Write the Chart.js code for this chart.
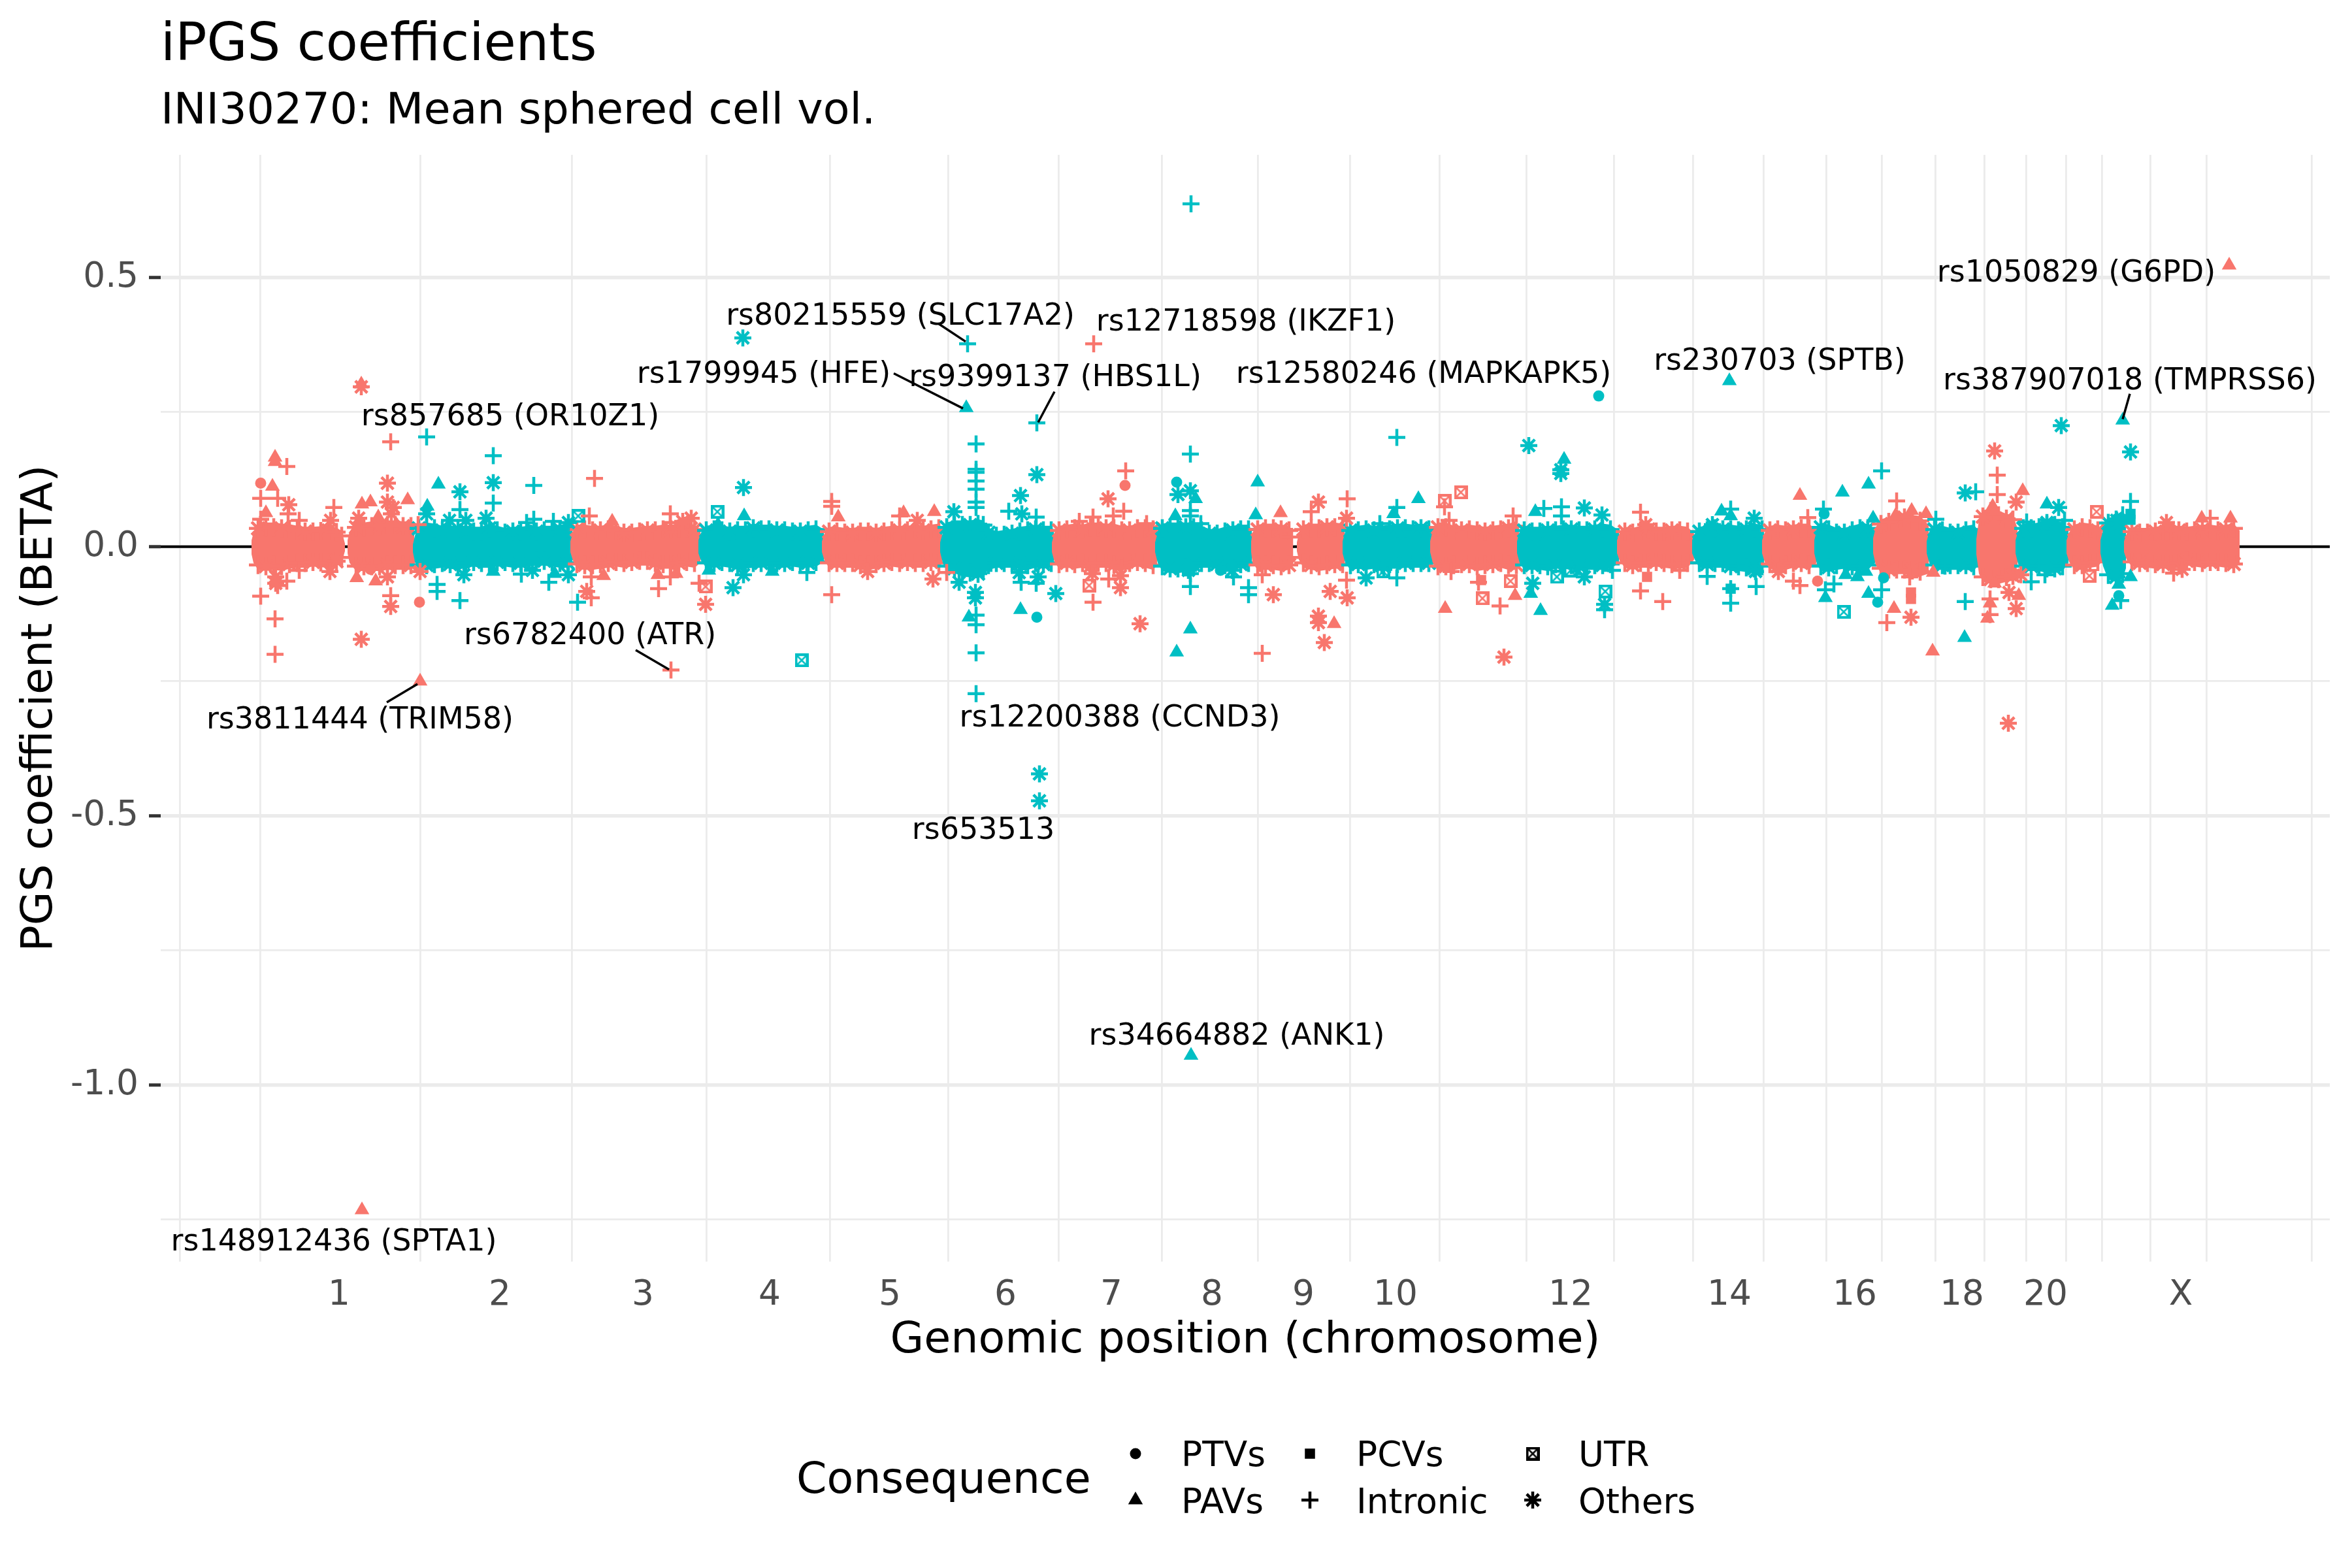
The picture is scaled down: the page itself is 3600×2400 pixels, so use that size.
<!DOCTYPE html>
<html>
<head>
<meta charset="utf-8">
<title>iPGS coefficients</title>
<script src="https://cdn.jsdelivr.net/npm/chart.js@4"></script>
<style>
  body { margin: 0; background: #fff; }
  canvas { display: block; }
</style>
</head>
<body>
<canvas id="myChart" width="3600" height="2400" style="width:3600px;height:2400px"></canvas>
<script>
var chromTicks = [134, 380, 599, 793, 977, 1154, 1316, 1470, 1610, 1751, 2019, 2262, 2454, 2618, 2746, 2953];
var chromLabels = ["1", "2", "3", "4", "5", "6", "7", "8", "9", "10", "12", "14", "16", "18", "20", "X"];
var gridBreaks = [-110, 13, 258, 490, 696, 885, 1066, 1235, 1393, 1540, 1681, 1818, 1951, 2085, 2206, 2314, 2410, 2495, 2577, 2652, 2716, 2777, 2832, 2906, 2992, 3153];
var yMajor = [0.5, 0, -0.5, -1];
var yMinor = [0.25, -0.25, -0.75, -1.25];
var consequences = ["PTVs", "PAVs", "PCVs", "Intronic", "UTR", "Others"];

// the dense cloud around zero, per chromosome: [x, upper edge, lower edge]
var band1a = [[0,.012,-.014],[3,.026,-.03],[10,.034,-.034],[22,.036,-.036],[34,.036,-.034],[46,.034,-.036],[58,.033,-.032],[70,.03,-.03],[82,.028,-.03],[94,.028,-.028],[106,.029,-.029],[118,.03,-.03],[130,.027,-.027],[138,.02,-.02],[143,.006,-.008]];
var band1b = [[147,.012,-.012],[150,.028,-.03],[160,.036,-.036],[172,.036,-.036],[184,.038,-.036],[196,.038,-.036],[208,.04,-.034],[220,.04,-.034],[232,.038,-.034],[244,.038,-.034],[249,.036,-.03]];
var band2 = [[247,.004,-.01],[250,.02,-.028],[256,.034,-.034],[268,.036,-.034],[280,.034,-.032],[292,.03,-.03],[304,.03,-.032],[316,.03,-.034],[328,.03,-.03],[340,.028,-.028],[352,.028,-.03],[364,.034,-.03],[376,.03,-.028],[388,.026,-.028],[400,.028,-.03],[412,.028,-.03],[424,.03,-.028],[436,.028,-.026],[448,.03,-.026],[460,.03,-.028],[472,.032,-.03],[484,.034,-.03],[491,.034,-.03]];
var band3 = [[488,.01,-.01],[492,.026,-.026],[498,.032,-.032],[510,.032,-.034],[522,.03,-.034],[534,.03,-.032],[546,.032,-.03],[558,.03,-.028],[570,.026,-.03],[582,.026,-.028],[594,.028,-.026],[606,.03,-.026],[618,.03,-.03],[630,.032,-.032],[642,.032,-.032],[654,.034,-.03],[666,.034,-.028],[678,.032,-.03],[687,.03,-.03]];
var band4 = [[684,.012,-.012],[688,.026,-.026],[696,.03,-.03],[708,.032,-.03],[720,.03,-.028],[732,.028,-.03],[744,.03,-.034],[756,.03,-.032],[768,.034,-.03],[780,.032,-.03],[792,.032,-.028],[804,.03,-.03],[816,.03,-.03],[828,.028,-.028],[840,.028,-.03],[852,.03,-.03],[864,.032,-.028],[876,.032,-.028]];
var band5 = [[873,.01,-.01],[877,.024,-.026],[884,.028,-.03],[896,.028,-.03],[908,.026,-.03],[920,.026,-.03],[932,.028,-.034],[944,.028,-.034],[956,.026,-.032],[968,.028,-.03],[980,.03,-.028],[992,.03,-.03],[1004,.03,-.028],[1016,.032,-.03],[1028,.03,-.03],[1040,.032,-.028],[1052,.034,-.03],[1057,.034,-.03]];
var band6 = [[1054,.008,-.01],[1058,.026,-.03],[1064,.036,-.036],[1076,.04,-.04],[1088,.04,-.046],[1100,.04,-.048],[1112,.042,-.05],[1120,.04,-.044],[1128,.026,-.034],[1140,.02,-.03],[1152,.022,-.03],[1164,.024,-.03],[1176,.028,-.032],[1188,.03,-.034],[1200,.032,-.03],[1212,.03,-.032],[1224,.03,-.03],[1228,.03,-.03]];
var band7 = [[1225,.008,-.01],[1229,.026,-.028],[1236,.03,-.032],[1248,.032,-.03],[1260,.034,-.032],[1272,.032,-.03],[1284,.036,-.036],[1296,.036,-.03],[1308,.034,-.03],[1320,.034,-.034],[1332,.03,-.036],[1344,.03,-.03],[1356,.034,-.028],[1368,.034,-.03],[1380,.032,-.034],[1386,.03,-.034]];
var band8 = [[1383,.008,-.01],[1387,.026,-.03],[1394,.034,-.036],[1406,.036,-.04],[1418,.036,-.04],[1430,.036,-.038],[1442,.036,-.034],[1454,.03,-.03],[1466,.024,-.03],[1478,.024,-.032],[1490,.028,-.034],[1502,.03,-.032],[1514,.032,-.032],[1526,.032,-.03],[1531,.03,-.03]];
var band9a = [[1530,.01,-.01],[1532,.026,-.03],[1540,.032,-.034],[1552,.034,-.034],[1564,.034,-.034],[1576,.032,-.036],[1588,.03,-.034],[1592,.018,-.02],[1594,.006,-.006]];
var band9b = [[1600,.008,-.008],[1603,.024,-.024],[1610,.032,-.03],[1622,.034,-.034],[1634,.034,-.036],[1646,.036,-.034],[1658,.036,-.032],[1670,.034,-.032],[1673,.03,-.03]];
var band10 = [[1670,.01,-.012],[1674,.028,-.03],[1682,.03,-.034],[1694,.03,-.032],[1706,.032,-.034],[1718,.03,-.032],[1730,.03,-.034],[1742,.032,-.032],[1754,.034,-.032],[1766,.034,-.03],[1778,.032,-.03],[1790,.034,-.03],[1802,.032,-.03],[1807,.03,-.03]];
var band11 = [[1804,.01,-.01],[1808,.03,-.03],[1816,.036,-.036],[1828,.036,-.036],[1840,.03,-.034],[1852,.03,-.032],[1864,.032,-.032],[1876,.03,-.036],[1888,.028,-.034],[1900,.03,-.032],[1912,.032,-.03],[1924,.034,-.034],[1936,.038,-.034],[1940,.036,-.03]];
var band12 = [[1937,.01,-.012],[1941,.028,-.03],[1948,.03,-.034],[1960,.028,-.034],[1972,.028,-.034],[1984,.03,-.036],[1996,.03,-.032],[2008,.032,-.032],[2020,.032,-.034],[2032,.03,-.036],[2044,.03,-.034],[2056,.032,-.034],[2068,.034,-.034],[2080,.032,-.032],[2093,.03,-.03]];
var band13 = [[2090,.012,-.012],[2094,.026,-.026],[2102,.028,-.03],[2114,.026,-.034],[2126,.03,-.03],[2138,.032,-.03],[2150,.028,-.028],[2162,.028,-.03],[2174,.03,-.032],[2186,.03,-.032],[2198,.028,-.03],[2208,.024,-.024]];
var band14 = [[2205,.012,-.012],[2209,.024,-.024],[2216,.028,-.03],[2228,.03,-.032],[2240,.034,-.03],[2252,.032,-.03],[2264,.032,-.036],[2276,.03,-.036],[2288,.032,-.038],[2300,.034,-.04],[2312,.032,-.036],[2315,.026,-.03]];
var band15 = [[2312,.012,-.012],[2316,.026,-.028],[2324,.03,-.032],[2336,.032,-.036],[2348,.03,-.034],[2360,.032,-.03],[2372,.034,-.03],[2384,.034,-.034],[2395,.03,-.03]];
var band16 = [[2392,.012,-.012],[2396,.032,-.032],[2402,.036,-.036],[2414,.032,-.038],[2426,.026,-.034],[2438,.026,-.032],[2450,.03,-.036],[2462,.034,-.036],[2474,.034,-.034],[2485,.032,-.03]];
var band17 = [[2482,.016,-.012],[2486,.036,-.034],[2494,.042,-.04],[2506,.046,-.042],[2518,.052,-.042],[2530,.054,-.042],[2542,.05,-.044],[2554,.048,-.046],[2567,.04,-.05]];
var band18 = [[2564,.01,-.012],[2568,.028,-.03],[2576,.032,-.034],[2588,.03,-.034],[2600,.026,-.034],[2612,.026,-.034],[2624,.03,-.034],[2636,.032,-.036],[2643,.03,-.034]];
var band19 = [[2640,.014,-.014],[2644,.05,-.05],[2650,.056,-.056],[2662,.066,-.06],[2674,.058,-.06],[2686,.052,-.056],[2696,.05,-.054],[2703,.034,-.034]];
var band20 = [[2700,.012,-.012],[2704,.028,-.032],[2712,.034,-.036],[2724,.034,-.036],[2736,.036,-.036],[2748,.04,-.04],[2760,.04,-.04],[2772,.036,-.036],[2781,.03,-.03]];
var band21 = [[2778,.012,-.012],[2782,.026,-.028],[2790,.032,-.034],[2802,.036,-.034],[2814,.034,-.03],[2826,.03,-.028],[2833,.026,-.026]];
var band22 = [[2830,.012,-.012],[2834,.03,-.036],[2842,.044,-.052],[2854,.05,-.056],[2864,.058,-.05],[2869,.056,-.04]];
var bandX = [[2866,.01,-.01],[2870,.024,-.024],[2878,.028,-.028],[2890,.026,-.03],[2902,.026,-.03],[2914,.028,-.032],[2926,.03,-.032],[2938,.03,-.032],[2950,.03,-.03],[2962,.028,-.026],[2974,.03,-.028],[2986,.032,-.03],[2998,.032,-.028],[3010,.03,-.028],[3022,.032,-.03],[3034,.034,-.032],[3043,.03,-.03]];

// variants that stand clear of the cloud
var redIntronic = [[213,.195],[54,.149],[14,.09],[40,.09],[14,.051],[56,.061],[73,.049],[126,.073],[525,.127],[517,.057],[641,.061],[641,.045],[255,.041],[14,-.092],[36,-.134],[36,-.2],[40,-.072],[54,-.064],[73,-.044],[213,-.091],[520,-.095],[623,-.078],[641,-.056],[520,-.056],[685,-.068],[642,-.229],
  [888,.084],[888,.075],[888,-.089],[992,.057],[1064,-.048],[1338,.141],[1288,.055],[1267,.047],[1335,.066],[1319,.057],[1370,.043],[1288,-.103],[1312,-.06],[1547,-.198],[1547,-.052],[1677,.089],[1622,.065],[1676,-.062],[1332,-.04],[1289,.377],
  [1826,.074],[1833,.049],[1931,.057],[1911,-.11],[1878,-.066],[2126,.064],[2126,-.082],[2160,-.102],[2382,.054],[2518,.085],[2503,-.141],[2360,-.064],[2370,-.072],[2538,-.056],[2672,.133],[2672,.097],[2661,-.097],[2661,-.126],[2998,.053],[2942,-.049],[2186,-.044],[1836,-.046]];
var redOthers = [[208,.118],[57,.078],[208,.083],[217,.073],[214,.061],[121,.049],[164,.053],[673,.053],[660,.047],[120,-.046],[37,-.056],[37,-.068],[208,-.056],[213,-.111],[258,-.046],[168,-.172],[513,-.083],[695,-.107],[168,.297],
  [1311,.089],[1633,.083],[1676,.053],[1019,.049],[943,-.046],[1043,-.06],[1360,-.143],[1633,-.129],[1633,-.141],[1642,-.178],[1564,-.089],[1651,-.083],[1677,-.095],[1330,-.076],[1330,-.054],[1287,-.05],
  [2134,.041],[2337,-.046],[2668,.178],[2701,.083],[2690,-.085],[2701,-.115],[2540,-.131],[1917,-.205],[2931,.045],[2955,-.042],[2708,-.052],[2689,-.328]];
var redPAVs = [[36,.166],[36,.158],[32,.112],[169,.079],[182,.083],[239,.087],[22,.063],[194,.055],[552,.047],[161,-.058],[190,-.064],[258,-.25],[539,-.054],[622,-.052],[650,-.05],[168,.302],[169,-1.232],
  [898,.055],[998,.063],[1045,.065],[1575,.063],[1657,-.143],
  [1827,-.115],[1934,-.091],[2370,.095],[2541,.067],[2563,.061],[2516,.057],[2514,-.115],[2573,-.194],[2711,.104],[2665,.075],[2669,.065],[2661,-.105],[2657,-.133],[2705,-.091],[2985,.053],[3029,.053],[2574,-.048],[2668,-.068],[3027,.523]];
var redPTVs = [[14,.118],[257,-.103],[182,-.042],[1337,.114],[2397,-.064]];
var redPCVs = [[2136,-.056],[1882,-.062],[2540,-.085],[2540,-.097]];
var redUTR = [[695,-.074],[1282,-.072],[1851,.101],[1826,.085],[1884,-.096],[1927,-.064],[2824,.065],[2813,-.054]];

var tealIntronic = [[268,.204],[370,.169],[432,.114],[370,.081],[319,.069],[421,.045],[432,.051],[462,.047],[284,-.07],[284,-.083],[319,-.1],[413,-.051],[455,-.066],[499,-.103],
  [1202,.23],[1109,.191],[1109,.144],[1109,.138],[1109,.122],[1109,.107],[1109,.083],[1109,.073],[1109,-.127],[1109,-.145],[1109,-.197],[1109,-.273],[1437,.172],[1753,.203],[1159,.066],[1201,.055],[1437,.067],[1437,.057],[1453,.043],[1753,.073],[1727,.043],[1437,-.074],[1437,-.05],[1526,-.076],[1526,-.089],[1503,-.056],[1753,-.058],[1733,-.042],[850,-.048],[1178,-.066],[1201,-.068],[1438,.637],[1096,.377],
  [1978,.071],[2005,.074],[2005,.057],[2264,.07],[2406,.07],[2495,.141],[2071,-.117],[2083,-.044],[2228,-.055],[2264,-.105],[2264,-.078],[2303,-.074],[2495,-.08],[2409,-.08],[2422,-.069],[2639,.102],[2578,.051],[2623,-.102],[2724,-.065],[2745,-.052],[2717,.046],[2775,.049],[2876,.084],[2861,-.1],[2592,-.036]];
var tealOthers = [[319,.102],[370,.119],[268,.061],[303,.049],[328,.049],[359,.053],[753,.11],[485,.045],[737,-.076],[753,-.052],[485,-.052],[325,-.052],[430,-.044],[752,.388],
  [1202,.134],[1177,.095],[1179,.061],[1075,.065],[1418,.097],[1437,.104],[1231,-.087],[1083,-.066],[1108,-.085],[1108,-.095],[1175,-.048],[1204,-.056],[1706,-.058],[1434,-.044],[1501,-.044],[1206,-.422],[1206,-.472],
  [1955,.188],[2004,.143],[2004,.136],[2040,.072],[2067,.059],[2071,-.107],[1961,-.068],[2040,-.056],[2300,.053],[2236,.041],[2302,-.046],[2623,.1],[2770,.225],[2766,.073],[2748,.045],[2876,.176],[2855,.049]];
var tealPAVs = [[286,.116],[269,.075],[754,.057],[714,.041],[370,-.046],[464,-.05],[700,-.044],[797,-.046],
  [1094,.258],[1098,-.131],[1177,-.117],[1437,-.153],[1416,-.196],[1540,.12],[1537,.059],[1445,.089],[1414,.057],[1786,.089],[1748,.061],[1438,-.945],
  [2009,.162],[1965,.065],[1958,-.087],[1973,-.119],[2250,.066],[2264,.057],[2435,.101],[2475,.116],[2482,.053],[2409,-.095],[2475,-.087],[2440,-.052],[2458,-.056],[2471,-.046],[2622,-.169],[2748,.079],[2864,.235],[2876,-.056],[2858,-.07],[2848,-.109],[2262,.308]];
var tealPTVs = [[1416,.12],[1202,-.131],[1483,-.044],[2407,.061],[2489,-.103],[2498,-.058],[2858,-.091],[2062,.28]];
var tealPCVs = [[2264,-.078],[2876,.061],[2876,.05]];
var tealUTR = [[500,.057],[713,.065],[842,-.211],[1732,-.046],[1998,-.056],[2019,-.044],[2072,-.083],[2437,-.121]];

// label text with its centre, and the connector lines
var labelTexts = ["rs857685 (OR10Z1)", "rs80215559 (SLC17A2)", "rs12718598 (IKZF1)", "rs1799945 (HFE)", "rs9399137 (HBS1L)", "rs12580246 (MAPKAPK5)", "rs230703 (SPTB)", "rs1050829 (G6PD)", "rs387907018 (TMPRSS6)", "rs3811444 (TRIM58)", "rs6782400 (ATR)", "rs12200388 (CCND3)", "rs653513", "rs34664882 (ANK1)", "rs148912436 (SPTA1)"];
var labelX = [396, 993, 1522, 784, 1230, 1794, 2339, 2793, 2875, 166, 518, 1329, 1120, 1508, 126];
var labelY = [.244, .431, .42, .322, .317, .322, .347, .511, .311, -.319, -.163, -.316, -.525, -.907, -1.289];
var connectors = [[1052,.414,1093,.381],[983,.322,1089,.257],[1229,.288,1204,.231],[2875,.284,2864,.237],[207,-.289,254,-.255],[588,-.192,639,-.228]];

var RED = "#F8766D", TEAL = "#00BFC4";
var xMin = -139, xMax = 3181, yMin = -1.328, yMax = 0.728;
var coreBleed = 0.009; // solid core reaches a little past the edge marks' centres
var fontName = "'DejaVu Sans'";

Chart.defaults.font.family = fontName;
Chart.defaults.animation = false;

function utrImage(color) {
    var c = document.createElement("canvas");
    c.width = 21; c.height = 21;
    var g = c.getContext("2d");
    g.strokeStyle = color;
    g.lineWidth = 4;
    g.strokeRect(2, 2, 17, 17);
    g.lineWidth = 2.5;
    g.beginPath();
    g.moveTo(3, 3); g.lineTo(18, 18);
    g.moveTo(18, 3); g.lineTo(3, 18);
    g.stroke();
    return c;
}

var shapeStyle = {
    PTVs: {pointStyle: "circle", radius: 8.5, line: 0},
    PAVs: {pointStyle: "triangle", radius: 13, line: 0},
    PCVs: {pointStyle: "rect", radius: 11, line: 0},
    Intronic: {pointStyle: "cross", radius: 13, line: 4.5},
    Others: {pointStyle: "star", radius: 13, line: 4.5}
};

function marks(name, shape, color, pairs) {
    var s = shapeStyle[shape];
    return {
        type: "scatter", label: name, order: 5,
        data: pairs.map(function (p) { return {x: p[0], y: p[1]}; }),
        pointStyle: shape == "UTR" ? utrImage(color) : s.pointStyle,
        pointRadius: shape == "UTR" ? 10 : s.radius,
        borderWidth: shape == "UTR" ? 0 : s.line,
        borderColor: color, backgroundColor: color,
        xAxisID: "x", yAxisID: "y"
    };
}

var bands = [band1a, band1b, band2, band3, band4, band5, band6, band7, band8, band9a, band9b, band10, band11, band12, band13, band14, band15, band16, band17, band18, band19, band20, band21, band22, bandX];
var bandColors = [RED, RED, TEAL, RED, TEAL, RED, TEAL, RED, TEAL, RED, RED, TEAL, RED, TEAL, RED, TEAL, RED, TEAL, RED, TEAL, RED, TEAL, RED, TEAL, RED];

var datasets = [];
bands.forEach(function (band, i) {
    var color = bandColors[i];
    var order = 500 - i * 10;
    // the ends of a chromosome stay rounded, so no bleed on the first two rows and the last
    function bleed(k) { return k >= 2 && k < band.length - 1 ? coreBleed : 0; }
    // solid core between the two edges
    datasets.push({type: "line", label: "core upper", order: order,
        data: band.map(function (b, k) { return {x: b[0], y: b[1] + bleed(k)}; }),
        borderWidth: 0, pointRadius: 0, backgroundColor: color, fill: "+1", tension: 0});
    datasets.push({type: "line", label: "core lower", order: order,
        data: band.map(function (b, k) { return {x: b[0], y: b[2] - bleed(k)}; }),
        borderWidth: 0, pointRadius: 0, backgroundColor: color, fill: false, tension: 0});
    // plus and star marks along the edges, not on the rounded ends of a chromosome
    var edge = [];
    band.slice(2, band.length - 1).forEach(function (b) {
        edge.push({x: b[0], y: b[1]});
        edge.push({x: b[0], y: b[2]});
    });
    datasets.push({type: "scatter", label: "edge", order: order - 1, data: edge,
        pointStyle: edge.map(function (p, k) { return k % 3 == 0 ? "star" : "cross"; }),
        pointRadius: 14, borderWidth: 4.5, borderColor: color, backgroundColor: color});
});

datasets.push(marks("PTVs", "PTVs", RED, redPTVs), marks("PAVs", "PAVs", RED, redPAVs), marks("PCVs", "PCVs", RED, redPCVs),
    marks("Intronic", "Intronic", RED, redIntronic), marks("UTR", "UTR", RED, redUTR), marks("Others", "Others", RED, redOthers),
    marks("PTVs", "PTVs", TEAL, tealPTVs), marks("PAVs", "PAVs", TEAL, tealPAVs), marks("PCVs", "PCVs", TEAL, tealPCVs),
    marks("Intronic", "Intronic", TEAL, tealIntronic), marks("UTR", "UTR", TEAL, tealUTR), marks("Others", "Others", TEAL, tealOthers));

// black line at zero, under everything
datasets.push({type: "line", label: "zero", order: 900, data: [{x: xMin, y: 0}, {x: xMax, y: 0}],
    borderColor: "#000", borderWidth: 4, pointRadius: 0, fill: false});

// connector lines, with a gap between each
var connectorData = [];
connectors.forEach(function (c) {
    connectorData.push({x: c[0], y: c[1]}, {x: c[2], y: c[3]}, {x: c[2], y: null});
});
datasets.push({type: "line", label: "connectors", order: 0, data: connectorData,
    borderColor: "#000", borderWidth: 3.5, pointRadius: 0, fill: false, spanGaps: false});

var textPlugin = {
    id: "textPlugin",
    afterDatasetsDraw: function (chart) {
        var ctx = chart.ctx, sx = chart.scales.x, sy = chart.scales.y;
        ctx.save();
        ctx.fillStyle = "#000";
        ctx.textAlign = "center";
        ctx.textBaseline = "middle";
        ctx.font = "46px " + fontName;
        labelTexts.forEach(function (t, i) {
            ctx.fillText(t, sx.getPixelForValue(labelX[i]), sy.getPixelForValue(labelY[i]) + 3);
        });
        ctx.restore();
    },
    afterDraw: function (chart) {
        var ctx = chart.ctx;
        ctx.save();
        ctx.fillStyle = "#000";
        ctx.textBaseline = "alphabetic";
        ctx.textAlign = "left";
        ctx.font = "80px " + fontName;
        ctx.fillText("iPGS coefficients", 246, 92);
        ctx.font = "66.67px " + fontName;
        ctx.fillText("INI30270: Mean sphered cell vol.", 246, 189);

        // legend
        ctx.fillText("Consequence", 1219, 2285);
        ctx.font = "53.3px " + fontName;
        var cols = [1738, 2005, 2346], textCols = [1808, 2076, 2416], rows = [2225, 2296], bases = [2244, 2316];
        var order = ["PTVs", "PAVs", "PCVs", "Intronic", "UTR", "Others"];
        order.forEach(function (name, i) {
            var col = Math.floor(i / 2), row = i % 2;
            ctx.fillStyle = "#000";
            ctx.fillText(consequences[i], textCols[col], bases[row]);
            var s = shapeStyle[name];
            var opts = name == "UTR"
                ? {pointStyle: utrImage("#000"), radius: 10, borderWidth: 0}
                : {pointStyle: s.pointStyle, radius: s.radius, borderWidth: s.line};
            ctx.strokeStyle = "#000";
            ctx.lineWidth = s ? s.line : 0;
            Chart.helpers.drawPoint(ctx, opts, cols[col], rows[row]);
        });
        ctx.restore();
    }
};

var ctx2 = document.getElementById("myChart").getContext("2d");
var myChart = new Chart(ctx2, {
    data: {datasets: datasets},
    plugins: [textPlugin],
    options: {
        responsive: false,
        animation: false,
        devicePixelRatio: 1,
        layout: {padding: {top: 237, right: 34, left: 0, bottom: 0}},
        plugins: {legend: {display: false}, title: {display: false}, tooltip: {enabled: false}},
        scales: {
            x: {
                type: "linear", position: "bottom", min: xMin, max: xMax, weight: 1,
                afterBuildTicks: function (scale) {
                    scale.ticks = chromTicks.map(function (v) { return {value: v}; });
                },
                afterFit: function (scale) { scale.height = 469; },
                grid: {display: false, drawTicks: false},
                border: {display: false},
                ticks: {
                    autoSkip: false, maxRotation: 0, minRotation: 0, padding: 20,
                    color: "#4D4D4D", font: {size: 53.3},
                    callback: function (v, i) { return chromLabels[i]; }
                },
                title: {display: true, text: "Genomic position (chromosome)", color: "#000",
                    font: {size: 66.67}, padding: {top: 0, bottom: 307}}
            },
            xGrid: {
                type: "linear", position: "bottom", min: xMin, max: xMax, weight: 0,
                afterBuildTicks: function (scale) {
                    scale.ticks = gridBreaks.map(function (v) { return {value: v}; });
                },
                afterFit: function (scale) { scale.height = 0; },
                grid: {color: "#EBEBEB", lineWidth: 2.8, drawTicks: false},
                border: {display: false},
                ticks: {display: false}
            },
            y: {
                type: "linear", position: "left", min: yMin, max: yMax,
                afterBuildTicks: function (scale) {
                    scale.ticks = yMajor.concat(yMinor).map(function (v) { return {value: v}; });
                },
                afterFit: function (scale) { scale.width = 246; },
                grid: {
                    color: "#EBEBEB", tickLength: 18,
                    lineWidth: function (c) { return yMajor.indexOf(c.tick.value) >= 0 ? 5.5 : 2.8; },
                    tickColor: function (c) { return yMajor.indexOf(c.tick.value) >= 0 ? "#333333" : "rgba(0,0,0,0)"; },
                    tickWidth: function (c) { return yMajor.indexOf(c.tick.value) >= 0 ? 5 : 0; }
                },
                border: {display: false},
                ticks: {
                    autoSkip: false, padding: 16, color: "#4D4D4D", font: {size: 53.3},
                    callback: function (v) { return yMajor.indexOf(v) >= 0 ? v.toFixed(1) : ""; }
                },
                title: {display: true, text: "PGS coefficient (BETA)", color: "#000",
                    font: {size: 66.67}, padding: {top: 22, bottom: 0}}
            }
        }
    }
});
</script>
</body>
</html>
